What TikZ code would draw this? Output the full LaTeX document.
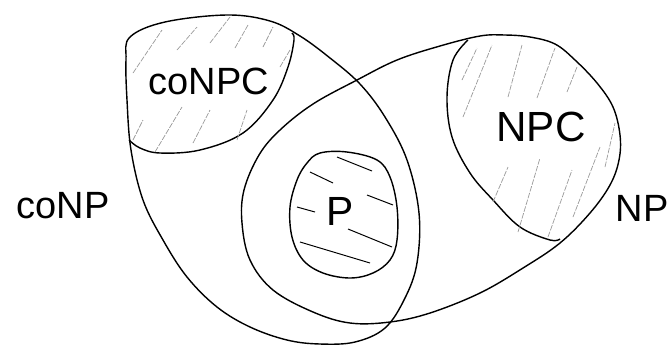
\documentclass[tikz,border=0pt]{standalone}
\usepackage{fontspec}
\setmainfont{Liberation Sans}
\usepackage{tikz}
\definecolor{hatchGray}{HTML}{9A9A9A}

\begin{document}
\begin{tikzpicture}[x=0.025cm, y=-0.025cm,
  outline/.style={draw, line width=1pt, line join=round},
  hatch/.style={hatchGray, line width=0.5pt, dash pattern=on 4pt off 1pt},
  pline/.style={line width=0.7pt},
  lbl/.style={font=\fontsize{27}{30}\selectfont, inner sep=0pt}]
\useasboundingbox (0,0) rectangle (669,345);
% coNP
\draw[outline] plot[smooth cycle, tension=0.6] coordinates {(130,37) (165,22) (227,15) (270,21) (300,36) (330,58) (360,84) (385,117) (407,160) (419,213) (417,263) (405,298) (385,328) (355,342) (320,344) (287,340) (250,327) (217,307) (187,277) (163,240) (143,200) (131,150) (127,100) (126,60)};
% NP
\draw[outline] plot[smooth cycle, tension=0.6] coordinates {(280,130) (313,104) (357,80) (397,60) (440,46) (480,36) (505,35) (530,37) (555,44) (575,60) (597,83) (613,107) (620,135) (619,160) (610,185) (590,213) (560,243) (523,268) (480,293) (430,313) (390,322) (350,323) (313,312) (273,290) (250,260) (242,223) (244,190) (259,155)};
% coNPC
\draw[outline] plot[smooth, tension=0.6] coordinates {(129,140) (140,148) (160,153) (200,150) (243,133) (273,100) (288,67) (294,40) (292,33)};
\draw[hatch] (133,73) -- (162,30) (177,50) -- (197,27) (210,43) -- (230,17)
  (235,48) -- (248,25) (263,47) -- (273,27) (280,67) -- (290,50)
  (133,140) -- (143,120) (155,152) -- (182,107) (193,143) -- (210,110)
  (237,140) -- (247,110);
% NPC
\draw[outline] plot[smooth, tension=0.6] coordinates {(468,40) (453,60) (447,97) (452,137) (470,173) (493,200) (520,227) (550,240) (560,239)};
\draw[hatch] (462,80) -- (477,48) (463,117) -- (492,45) (508,97) -- (522,45)
  (537,98) -- (555,48) (567,92) -- (577,67)
  (493,202) -- (508,167) (518,232) -- (540,158) (548,237) -- (572,170)
  (573,217) -- (600,147) (605,167) -- (615,123);
% P
\draw[outline] plot[smooth cycle, tension=0.6] coordinates {(320,153) (347,152) (377,160) (390,177) (397,207) (397,240) (390,260) (373,273) (350,278) (323,273) (303,260) (292,237) (290,207) (297,180) (307,163)};
\draw[pline] (310,172) -- (333,183) (297,207) -- (315,212) (367,195) -- (393,205)
  (348,229) -- (392,247) (300,242) -- (370,263) (337,157) -- (372,171);
% labels
\node[lbl] (conp) at (63,206) {coNP};
\node[lbl] (conpc) at (209,81) {coNPC};
\node[lbl, font=\fontsize{30}{32}\selectfont] (npc) at (541,127) {NPC};
\node[lbl] (np) at (642,208) {NP};
\node[lbl, font=\fontsize{29}{32}\selectfont] (p) at (340,211) {P};
\end{tikzpicture}
\end{document}
